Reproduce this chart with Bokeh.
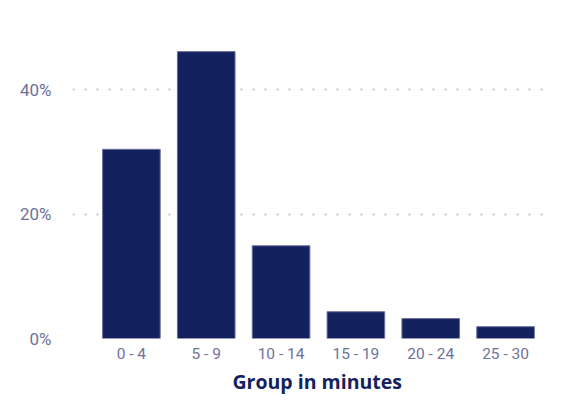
from bokeh.plotting import figure
from bokeh.models import Range1d, FixedTicker, NumeralTickFormatter, BoxAnnotation, Title
from bokeh.embed import file_html
from bokeh.resources import INLINE

categories = ["0-4", "5-9", "10-14", "15-19", "20-24", "25-30"]
shares = [0.304, 0.461, 0.149, 0.043, 0.032, 0.019]
y_ticks = [0.0, 0.2, 0.4]
x_title = "Group in minutes"

xs = list(range(len(categories)))

p = figure(width=561, height=401, output_backend="svg", toolbar_location=None,
           x_range=Range1d(-0.787, 5.627), y_range=Range1d(0, 0.511),
           min_border_left=72, min_border_right=9, min_border_top=20, min_border_bottom=63)

p.vbar(x=xs, top=shares, width=0.77, fill_color="#13215f", line_color="#6a709c", line_width=1)

strip = BoxAnnotation(left=0, right=7, top=0, bottom=401,
                      left_units="canvas", right_units="canvas",
                      top_units="canvas", bottom_units="canvas",
                      fill_color="#f4f5fc", fill_alpha=1.0, line_color=None)
p.add_layout(strip)

p.outline_line_color = None
p.background_fill_color = "white"
p.border_fill_color = "white"

p.xgrid.grid_line_color = None
p.ygrid.ticker = FixedTicker(ticks=y_ticks)
p.ygrid.grid_line_color = "#c4c4cc"
p.ygrid.grid_line_width = 2
p.ygrid.grid_line_dash = "2 10"

p.yaxis.ticker = FixedTicker(ticks=y_ticks)
p.yaxis.formatter = NumeralTickFormatter(format="0%")
p.yaxis.axis_line_color = None
p.yaxis.major_tick_line_color = None
p.yaxis.minor_tick_line_color = None
p.yaxis.major_label_text_font = "Roboto"
p.yaxis.major_label_text_font_size = "17px"
p.yaxis.major_label_text_color = "#6e7299"
p.yaxis.major_label_standoff = 15

p.xaxis.ticker = FixedTicker(ticks=xs)
p.xaxis.major_label_overrides = {i: c.replace("-", " - ") for i, c in enumerate(categories)}
p.xaxis.axis_line_color = None
p.xaxis.major_tick_line_color = None
p.xaxis.minor_tick_line_color = None
p.xaxis.major_label_text_font = "Roboto"
p.xaxis.major_label_text_font_size = "15.5px"
p.xaxis.major_label_text_color = "#6e7299"
p.xaxis.major_label_standoff = 0

t = Title(text=x_title, align="left", offset=160, standoff=0,
          text_font="Open Sans", text_font_style="bold", text_font_size="19.5px",
          text_color="#13215f")
p.add_layout(t, "below")

open("out.html", "w").write(file_html(p, INLINE))
